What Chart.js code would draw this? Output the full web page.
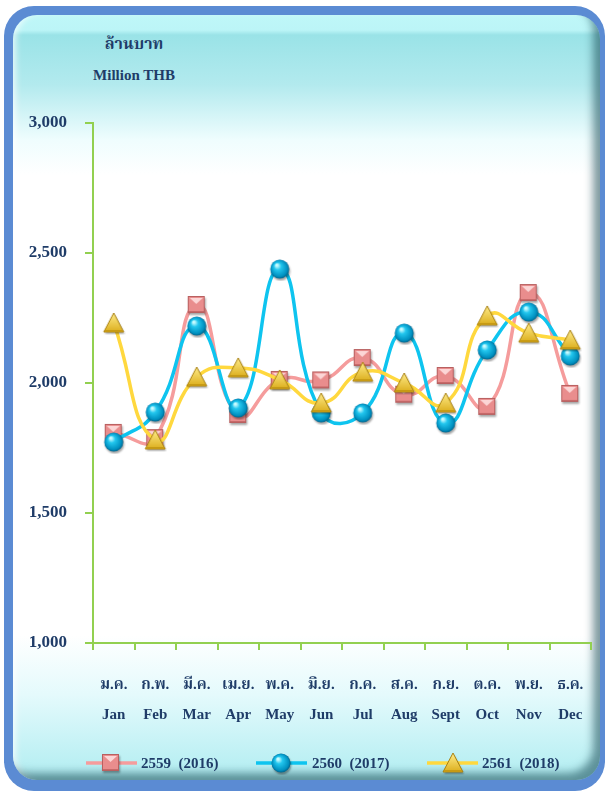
<!DOCTYPE html>
<html>
<head>
<meta charset="utf-8">
<script src="https://cdn.jsdelivr.net/npm/chart.js@4.4.1/dist/chart.umd.min.js"></script>
<style>
  html, body { margin: 0; padding: 0; width: 607px; height: 794px; background: #fff; overflow: hidden; }
  #frame { position: absolute; left: 4px; top: 6px; width: 601px; height: 785px; background: #5b8bd3; border-radius: 30px; }
  #panel {
    position: absolute; left: 13px; top: 15px; width: 587px; height: 765px; border-radius: 24px;
    background: linear-gradient(to bottom, #bff7f8 0px, #bcf5f7 15px, #9ae3e7 20px, #b3eaee 70px, #effdfe 125px, #ffffff 160px, #ffffff 620px, #e4fafc 680px, #b0edf1 765px);
    box-shadow: inset -9px -9px 8px -2px rgba(20,70,80,0.55), inset 6px 0 6px -3px rgba(255,255,255,0.7);
  }
  .ttl { position: absolute; width: 200px; text-align: center; color: #1f3c68; font-family: "Liberation Serif", "Noto Serif Thai", "Noto Sans Thai", serif; font-weight: bold; }
  #c { position: absolute; left: 0; top: 0; }
</style>
</head>
<body>
<div id="frame"></div>
<div id="panel"></div>
<div class="ttl" style="left:34px; top:32px; font-size:16px;">ล้านบาท</div>
<div class="ttl" style="left:34px; top:67px; font-size:15px;">Million THB</div>
<canvas id="c" width="607" height="794"></canvas>
<script>
// --- DATA ---
const monthsThai = ['ม.ค.', 'ก.พ.', 'มี.ค.', 'เม.ย.', 'พ.ค.', 'มิ.ย.', 'ก.ค.', 'ส.ค.', 'ก.ย.', 'ต.ค.', 'พ.ย.', 'ธ.ค.'];
const monthsEng = ['Jan', 'Feb', 'Mar', 'Apr', 'May', 'Jun', 'Jul', 'Aug', 'Sept', 'Oct', 'Nov', 'Dec'];
const seriesNames = ['2559  (2016)', '2560  (2017)', '2561  (2018)'];
const values2559 = [1808, 1788, 2300, 1877, 2012, 2010, 2096, 1955, 2027, 1908, 2346, 1958];
const values2560 = [1773, 1888, 2219, 1904, 2438, 1885, 1885, 2192, 1846, 2127, 2273, 2104];
const values2561 = [2231, 1781, 2023, 2058, 2012, 1923, 2042, 2000, 1923, 2258, 2192, 2165];
const yTicks = [1000, 1500, 2000, 2500, 3000];

const TEXT = '#1f3c68';
const GREEN = '#92d050';
const SERIF = '"Liberation Serif", "Noto Serif Thai", "Noto Sans Thai", serif';

// --- MARKERS ---
function newCanvas(w, h) {
    const c = document.createElement('canvas');
    c.width = w; c.height = h;
    return c;
}

function makeSquare() {
    const c = newCanvas(24, 24);
    const g = c.getContext('2d');
    g.shadowColor = 'rgba(0,0,0,0.35)'; g.shadowOffsetX = 1; g.shadowOffsetY = 2; g.shadowBlur = 2;
    g.fillStyle = '#e98d8d';
    g.fillRect(3, 3, 17, 17);
    g.shadowColor = 'transparent';
    g.fillStyle = '#fcd6d6';
    g.beginPath(); g.moveTo(5, 5); g.lineTo(18, 5); g.lineTo(11.5, 11); g.closePath(); g.fill();
    g.fillStyle = '#c76a6a';
    g.fillRect(3, 18, 17, 2);
    g.strokeStyle = '#b86060'; g.lineWidth = 1;
    g.strokeRect(3.5, 3.5, 16, 16);
    return c;
}

function makeSphere() {
    const c = newCanvas(24, 24);
    const g = c.getContext('2d');
    g.shadowColor = 'rgba(0,0,0,0.35)'; g.shadowOffsetX = 1; g.shadowOffsetY = 2; g.shadowBlur = 2;
    const grd = g.createRadialGradient(9, 8, 1, 12, 12, 10);
    grd.addColorStop(0, '#c8fbff');
    grd.addColorStop(0.3, '#22c6ee');
    grd.addColorStop(0.8, '#0090c0');
    grd.addColorStop(1, '#005a80');
    g.fillStyle = grd;
    g.beginPath(); g.arc(12, 12, 9.5, 0, Math.PI * 2); g.fill();
    return c;
}

function makeTriangle() {
    const c = newCanvas(24, 24);
    const g = c.getContext('2d');
    g.shadowColor = 'rgba(0,0,0,0.3)'; g.shadowOffsetX = 1; g.shadowOffsetY = 2; g.shadowBlur = 2;
    const grd = g.createLinearGradient(0, 2, 0, 21);
    grd.addColorStop(0, '#ffec8a');
    grd.addColorStop(1, '#dcae1c');
    g.fillStyle = grd;
    g.beginPath(); g.moveTo(12, 2); g.lineTo(22, 21); g.lineTo(2, 21); g.closePath(); g.fill();
    g.shadowColor = 'transparent';
    g.strokeStyle = '#a88010'; g.lineWidth = 1; g.stroke();
    g.fillStyle = '#c79a14';
    g.fillRect(3, 19, 18, 2);
    return c;
}

const markers = [makeSquare(), makeSphere(), makeTriangle()];
const lineColors = ['#f59c9c', '#0ec4ef', '#ffd83e'];

// --- LEGEND (custom) ---
const legendPlugin = {
    id: 'lineLegend',
    afterDraw(chart) {
        const ctx = chart.ctx;
        const items = [
            { x0: 86, x1: 137, mx: 111, tx: 141 },
            { x0: 256, x1: 307, mx: 281, tx: 312 },
            { x0: 427, x1: 478, mx: 453, tx: 482 }
        ];
        const y = 763;
        ctx.save();
        items.forEach((it, i) => {
            ctx.strokeStyle = lineColors[i];
            ctx.lineWidth = 3.5;
            ctx.beginPath(); ctx.moveTo(it.x0, y); ctx.lineTo(it.x1, y); ctx.stroke();
            const m = markers[i];
            ctx.drawImage(m, it.mx - m.width / 2, y - m.height / 2);
            ctx.fillStyle = TEXT;
            ctx.font = 'bold 15px ' + SERIF;
            ctx.textBaseline = 'middle';
            ctx.textAlign = 'left';
            ctx.fillText(seriesNames[i], it.tx, y + 1);
        });
        ctx.restore();
    }
};

function makeDataset(i, values, order) {
    return {
        label: seriesNames[i],
        data: values,
        borderColor: lineColors[i],
        backgroundColor: lineColors[i],
        borderWidth: 3.5,
        tension: 0.5,
        pointStyle: markers[i],
        order: order
    };
}

new Chart(document.getElementById('c'), {
    type: 'line',
    data: {
        labels: monthsEng.map((m, i) => [monthsThai[i], m]),
        datasets: [
            makeDataset(0, values2559, 3),
            makeDataset(1, values2560, 2),
            makeDataset(2, values2561, 1)
        ]
    },
    plugins: [legendPlugin],
    options: {
        responsive: false,
        animation: false,
        layout: { padding: { top: 123, left: 0, right: 16, bottom: 0 } },
        plugins: { legend: { display: false }, tooltip: { enabled: false } },
        scales: {
            x: {
                offset: true,
                afterFit: (s) => { s.height = 151; },
                border: { color: GREEN, width: 2 },
                grid: { offset: true, drawOnChartArea: false, color: GREEN, lineWidth: 2, tickLength: 7 },
                ticks: {
                    color: TEXT,
                    padding: 20,
                    maxRotation: 0,
                    autoSkip: false,
                    font: { family: SERIF, size: 15, weight: 'bold', lineHeight: 2 }
                }
            },
            y: {
                min: yTicks[0],
                max: yTicks[yTicks.length - 1],
                afterFit: (s) => { s.width = 93; },
                afterBuildTicks: (s) => { s.ticks = yTicks.map(v => ({ value: v })); },
                border: { color: GREEN, width: 2 },
                grid: { drawOnChartArea: false, color: GREEN, lineWidth: 2, tickLength: 8 },
                ticks: {
                    color: TEXT,
                    padding: 18,
                    callback: (v) => v.toLocaleString('en-US'),
                    font: { family: SERIF, size: 17, weight: 'bold' }
                }
            }
        }
    }
});
</script>
</body>
</html>
